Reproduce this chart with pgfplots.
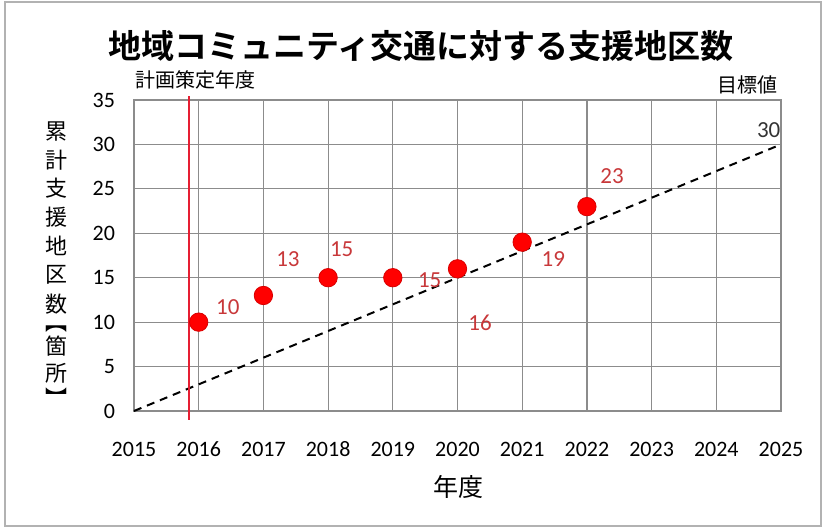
\documentclass[border=0pt]{standalone}
\usepackage{pgfplots}
\pgfplotsset{compat=1.18}
\usepackage{fontspec}
\setmainfont{Carlito}
\newfontfamily\jp{Noto Sans CJK JP}
\newfontfamily\jpb{Noto Sans CJK JP Bold}
\definecolor{lblred}{HTML}{C8383A}
\definecolor{gridc}{HTML}{8C8C8C}
\begin{document}
\begin{tikzpicture}
\path[use as bounding box] (0,0) rectangle (413pt,264.5pt);
\draw[gray!60, line width=1pt] (2.5pt,1.5pt) rectangle (410.5pt,263.5pt);
\begin{axis}[
  at={(67pt,59pt)}, anchor=south west,
  scale only axis, width=323.5pt, height=155.5pt,
  xmin=0, xmax=10, ymin=0, ymax=35,
  xtick={0,1,2,3,4,5,6,7,8,9,10},
  xticklabels={2015,2016,2017,2018,2019,2020,2021,2022,2023,2024,2025},
  ytick={0,5,10,15,20,25,30,35},
  xticklabel style={font=\fontsize{11}{12}\selectfont, text height=8pt, text depth=0pt, yshift=-11pt},
  yticklabel style={font=\fontsize{11}{12}\selectfont, xshift=-6pt},
  /pgf/number format/assume math mode=true,
  major tick length=0pt,
  grid=major, major grid style={gridc, line width=0.6pt},
  axis line style={gridc, line width=0.8pt},
  clip=false,
]
\addplot[black, line width=1pt, dash pattern=on 4pt off 3pt] coordinates {(0,0) (10,30)};
\addplot[draw={rgb,255:red,230;green,30;blue,50}, line width=0.9pt] coordinates {(0.85,-1) (0.85,35.4)};
\addplot[only marks, mark=*, mark size=4.6pt, color=red, mark options={fill=red, draw=red!85!black}] coordinates {
(1,10) (2,13) (3,15) (4,15) (5,16) (6,19) (7,23)};
\begin{scope}[font=\fontsize{11.5}{12}\selectfont, text=lblred]
\node at (axis cs:1.45,11.7) {10};
\node at (axis cs:2.38,17.1) {13};
\node at (axis cs:3.21,18.2) {15};
\node at (axis cs:4.57,14.7) {15};
\node at (axis cs:5.35,9.9) {16};
\node at (axis cs:6.48,17.1) {19};
\node at (axis cs:7.39,26.4) {23};
\end{scope}
\node[font=\fontsize{11.5}{12}\selectfont, text=black!80] at (axis cs:9.81,31.6) {30};
\end{axis}
\node[font=\jpb\fontsize{16.5}{18}\selectfont] at (210.5pt,241.5pt) {地域コミュニティ交通に対する支援地区数};
\node[font=\jp\fontsize{10}{11}\selectfont, anchor=west, inner sep=0pt] at (67.5pt,224.5pt) {計画策定年度};
\node[font=\jp\fontsize{10}{11}\selectfont, anchor=east, inner sep=0pt] at (389pt,222pt) {目標値};
\node[font=\jp\fontsize{12.5}{13}\selectfont] at (229pt,21pt) {年度};
\foreach \c/\py in {累/132,計/160,支/188,援/217,地/246,区/275,数/304,箇/346,所/373}
  \node[font=\jp\fontsize{11}{11}\selectfont, inner sep=0pt] at (28.5pt,{(529-\py)*0.5pt}) {\c};
\node[font=\jp\fontsize{11}{11}\selectfont, inner sep=0pt, anchor=south] at (28.5pt,{(529-333)*0.5pt}) {︻};
\node[font=\jp\fontsize{11}{11}\selectfont, inner sep=0pt, anchor=north] at (28.5pt,{(529-387)*0.5pt}) {︼};
\end{tikzpicture}
\end{document}
